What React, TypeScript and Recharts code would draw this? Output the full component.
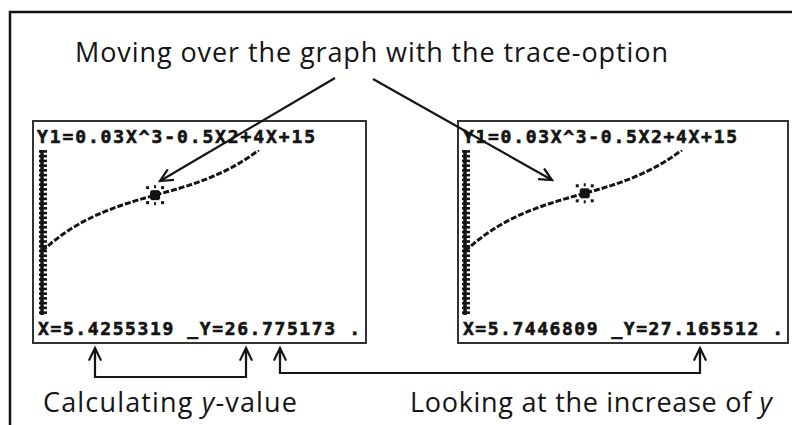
import React from 'react'
import { LineChart, Line, XAxis, YAxis, ReferenceDot } from 'recharts'

// points (Y1 = 0.03X^3 - 0.5X^2 + 4X + 15)
const curveX = [0, 0.5, 1, 1.5, 2, 2.5, 3, 3.5, 4, 4.5, 5, 5.5, 6, 6.5, 7, 7.5, 8, 8.5, 9, 9.5, 10, 10.4]
const curveY = [15, 16.88, 18.53, 19.98, 21.24, 22.34, 23.31, 24.16, 24.92, 25.61, 26.25, 26.87, 27.48, 28.11, 28.79, 29.53, 30.36, 31.3, 32.37, 33.6, 35, 36.27]

const yTicks = [2, 3, 4, 5, 6, 7, 8, 9, 10, 11, 12, 13, 14, 15, 16, 17, 18, 19, 20, 21, 22, 23, 24, 25, 26, 27, 28, 29, 30, 31, 32, 33, 34, 35, 36]

const traceLeft = { x: 5.4255319, y: 26.775173 }
const traceRight = { x: 5.7446809, y: 27.165512 }

const formula = 'Y1=0.03X^3-0.5X2+4X+15'
const readoutLeft = 'X=5.4255319 _Y=26.775173 .'
const readoutRight = 'X=5.7446809 _Y=27.165512 .'

const title = 'Moving over the graph with the trace-option'

const data = curveX.map((x, i) => ({ x, y: curveY[i] }))

const INK = '#141414'
const SANS = '"Open Sans", Lato, sans-serif'
const MONO = '"DejaVu Sans Mono", "Liberation Mono", monospace'

const AxisTick = (props: any) => (
  <rect x={props.x - 3} y={props.y - 1.3} width={8} height={2.6} fill={INK} />
)

const TraceCursor = (props: any) => {
  const { cx, cy } = props
  return (
    <g fill={INK}>
      <rect x={cx - 5} y={cy - 4} width={10} height={8} />
      <rect x={cx - 4} y={cy - 5} width={8} height={10} />
      <rect x={cx - 9} y={cy - 9} width={3} height={3} />
      <rect x={cx + 6} y={cy - 9} width={3} height={3} />
      <rect x={cx - 9} y={cy + 6} width={3} height={3} />
      <rect x={cx + 6} y={cy + 6} width={3} height={3} />
      <rect x={cx - 1} y={cy - 10} width={2} height={3} />
      <rect x={cx - 1} y={cy + 7} width={2} height={3} />
    </g>
  )
}

// one calculator screen
const Screen = ({
  left,
  width,
  axisOffset,
  trace
}: {
  left: number
  width: number
  axisOffset: number
  trace: { x: number; y: number }
}) => (
  <div style={{ position: 'absolute', left, top: 121, width, height: 222 }}>
    <LineChart
      width={width}
      height={222}
      data={data}
      margin={{ top: 29, right: width - axisOffset - 321, bottom: 28, left: axisOffset - 1 }}
    >
      <XAxis type="number" dataKey="x" domain={[0, 15.4]} hide allowDataOverflow />
      <YAxis
        type="number"
        domain={[1.5, 36.3]}
        ticks={yTicks}
        width={1}
        allowDataOverflow
        tickLine={false}
        tickSize={0}
        tickMargin={0}
        tick={AxisTick}
        interval={0}
        axisLine={{ stroke: INK, strokeWidth: 3.5 }}
      />
      <Line
        type="linear"
        dataKey="y"
        stroke={INK}
        strokeWidth={3}
        strokeDasharray="6 2"
        dot={false}
        isAnimationActive={false}
      />
      <ReferenceDot x={trace.x} y={trace.y} r={4} shape={TraceCursor} ifOverflow="visible" />
    </LineChart>
  </div>
)

const Arrow = ({ x1, y1, x2, y2 }: { x1: number; y1: number; x2: number; y2: number }) => {
  const a = Math.atan2(y2 - y1, x2 - x1)
  const len = 14
  const spread = 0.45
  const p1 = [x2 - len * Math.cos(a - spread), y2 - len * Math.sin(a - spread)]
  const p2 = [x2 - len * Math.cos(a + spread), y2 - len * Math.sin(a + spread)]
  return (
    <g stroke={INK} strokeWidth={2.2} fill="none">
      <line x1={x1} y1={y1} x2={x2} y2={y2} />
      <polyline points={`${p1[0]},${p1[1]} ${x2},${y2} ${p2[0]},${p2[1]}`} />
    </g>
  )
}

const Bracket = ({ xa, xb, bottom }: { xa: number; xb: number; bottom: number }) => (
  <g>
    <polyline points={`${xa},349 ${xa},${bottom} ${xb},${bottom} ${xb},349`} stroke={INK} strokeWidth={2.2} fill="none" />
    <Arrow x1={xa} y1={360} x2={xa} y2={348} />
    <Arrow x1={xb} y1={360} x2={xb} y2={348} />
  </g>
)

const calcText = { fontFamily: MONO, fontWeight: 'bold' as const, fontSize: 18, fill: INK, stroke: INK, strokeWidth: 0.6 }

export default function App() {
  return (
    <div style={{ position: 'absolute', left: 0, top: 0, width: 792, height: 425, background: '#fff', overflow: 'hidden' }}>
      <Screen left={33} width={333} axisOffset={9} trace={traceLeft} />
      <Screen left={458} width={330} axisOffset={7} trace={traceRight} />
      <svg width={792} height={425} style={{ position: 'absolute', left: 0, top: 0, pointerEvents: 'none' }}>
        {/* outer frame */}
        <polyline points="10,425 10,12 792,12" stroke={INK} strokeWidth={2.5} fill="none" />

        <text x={75} y={62} fontFamily={SANS} fontSize={27} fill={INK} textLength={593}>
          {title}
        </text>

        {/* screen frames */}
        <rect x={33} y={121} width={333} height={222} fill="none" stroke="#333" strokeWidth={2} />
        <rect x={458} y={121} width={330} height={222} fill="none" stroke="#333" strokeWidth={2} />

        <text x={37} y={143} {...calcText} textLength={278}>
          {formula}
        </text>
        <text x={463} y={143} {...calcText} textLength={274}>
          {formula}
        </text>
        <text x={38} y={335} {...calcText} textLength={322}>
          {readoutLeft}
        </text>
        <text x={463} y={335} {...calcText} textLength={320}>
          {readoutRight}
        </text>

        {/* arrows from the title to the trace cursors */}
        <Arrow x1={335} y1={78} x2={160} y2={181} />
        <Arrow x1={373} y1={79} x2={552} y2={180} />

        {/* brackets under the readouts */}
        <Bracket xa={95} xb={246} bottom={377} />
        <Bracket xa={280} xb={700} bottom={373} />

        <text x={43} y={412} fontFamily={SANS} fontSize={27} fill={INK} textLength={254}>
          Calculating <tspan fontStyle="italic">y</tspan>-value
        </text>
        <text x={410} y={412} fontFamily={SANS} fontSize={27} fill={INK} textLength={362}>
          Looking at the increase of <tspan fontStyle="italic">y</tspan>
        </text>
      </svg>
    </div>
  )
}
